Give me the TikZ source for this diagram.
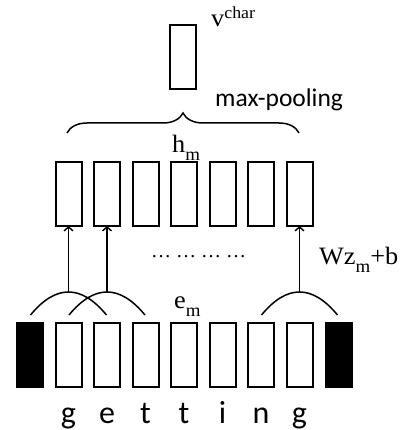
\documentclass[tikz,border=0pt]{standalone}
\usepackage{fontspec}
\setmainfont{Liberation Serif}
\newfontfamily\calfont{Carlito}
\usetikzlibrary{arrows.meta,decorations.pathreplacing,calc}
\newcommand\mysub[1]{\raisebox{-8pt}{\fontsize{18}{18}\selectfont #1}}
\newcommand\mysup[1]{\raisebox{8pt}{\fontsize{17}{17}\selectfont #1}}
\begin{document}
\begin{tikzpicture}[x=1pt,y=-1pt,
  cell/.style={draw,line width=2pt,minimum width=26pt,minimum height=64pt,inner sep=0pt,outer sep=0pt},
  pad/.style={cell,fill=black},
  mathlbl/.style={inner sep=0pt,anchor=base west,xscale=1.05,font=\fontsize{25}{27}\selectfont},
  letter/.style={inner sep=0pt,anchor=base,font=\calfont\fontsize{32}{36}\selectfont},
  dome/.style={line width=1.5pt},
  up/.style={line width=1.4pt,-{Straight Barb[length=4pt,width=9pt]}}]
\useasboundingbox (0,0) rectangle (402,430);
% top box
\node[cell] (v) at (183,57) {};
\node[mathlbl] (vl) at (211,27) {v\mysup{char}};
\node[inner sep=0pt,anchor=base west,font=\calfont\fontsize{25.5}{28}\selectfont] (mp) at (215,107) {max-pooling};
% brace
\coordinate (bl) at (67,133);
\coordinate (br) at (299,133);
\draw[line width=1.5pt,decorate,decoration={brace,amplitude=20pt}] (bl) -- (br);
\node[mathlbl] (hm) at (172,153) {h\mysub{m}};
% hidden row
\foreach \i in {1,...,7}{
  \node[cell] (t\i) at ({30+38.5*\i},194) {};
}
% bottom row
\node[pad] (b0) at (30,355) {};
\foreach \i in {1,...,7}{
  \node[cell] (b\i) at ({30+38.5*\i},355) {};
}
\node[pad] (b8) at (339,355) {};
% domes and arrows
\foreach \i in {1,2,7}{
  \coordinate (p\i) at ({30+38.5*\i},292);
  \draw[dome] ($(p\i)+(-38,23)$) .. controls +(25.3,-30.7) and +(-25.3,-30.7) .. ($(p\i)+(38,23)$);
  \draw[up] (p\i) -- (t\i.south);
}
\node[inner sep=0pt,font=\fontsize{20}{22}\selectfont] (dots) at (198.5,257) {… … … …};
\node[mathlbl] (wz) at (319,264) {Wz\mysub{m}+b};
\node[mathlbl] (em) at (174,308) {e\mysub{m}};
% letters
\foreach \c [count=\i] in {g,e,t,t,i,n,g}{
  \node[letter] (l\i) at ({30+38.5*\i},423) {\c};
}
\end{tikzpicture}
\end{document}
